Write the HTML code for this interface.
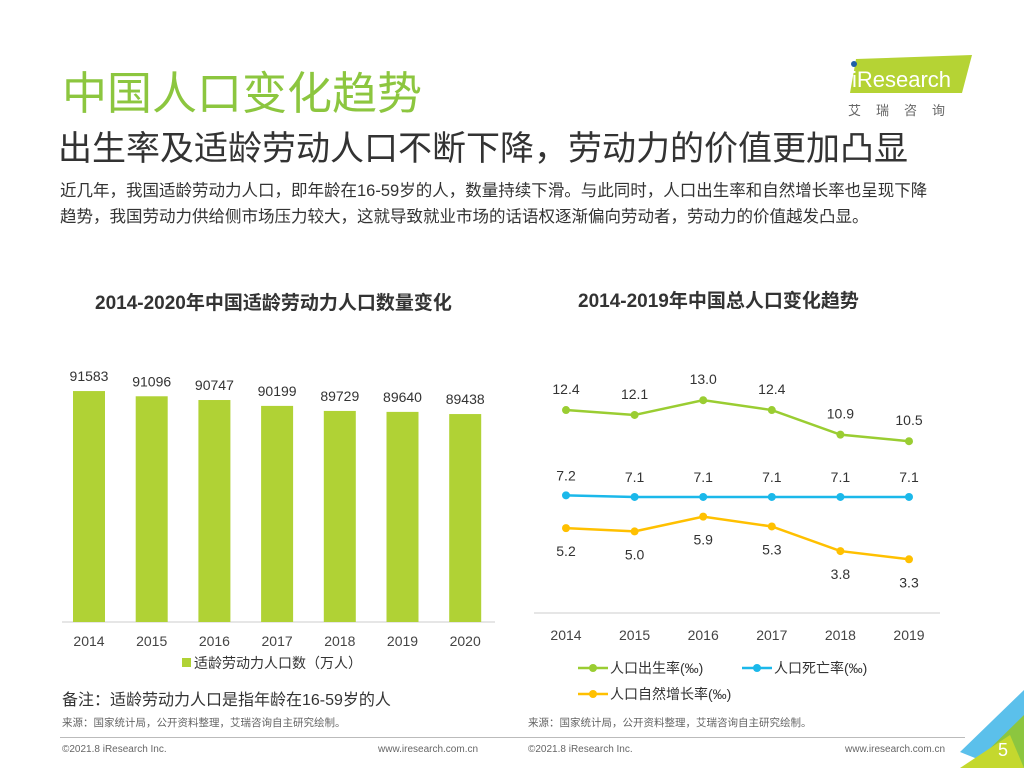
<!DOCTYPE html>
<html><head><meta charset="utf-8"><style>
body{margin:0;width:1024px;height:768px;overflow:hidden;background:#fff;position:relative;font-family:"Liberation Sans","Noto Sans CJK SC",sans-serif}
.abs{position:absolute;margin:0;white-space:nowrap}
</style></head><body>
<div class="abs" style="left:62px;top:57px;font-size:45px;color:#8cc63f;">中国人口变化趋势</div>
<div class="abs" style="left:58px;top:121px;font-size:34px;color:#333;">出生率及适龄劳动人口不断下降，劳动力的价值更加凸显</div>
<div class="abs" style="left:60px;top:178px;font-size:16.5px;line-height:26px;color:#333;">近几年，我国适龄劳动力人口，即年龄在16-59岁的人，数量持续下滑。与此同时，人口出生率和自然增长率也呈现下降<br>趋势，我国劳动力供给侧市场压力较大，这就导致就业市场的话语权逐渐偏向劳动者，劳动力的价值越发凸显。</div>
<div style="position:absolute;left:846px;top:55px;width:126px;height:40px;">
<svg width="126" height="40"><polygon points="10,4 126,0 116,38 4,38" fill="#b5d334"/><circle cx="8" cy="9" r="3" fill="#1f5fa8"/><text x="6" y="32" font-size="22" fill="#fff" font-family="Liberation Sans">iResearch</text></svg></div>
<div class="abs" style="left:848px;top:100px;font-size:13px;letter-spacing:15px;color:#666;">艾瑞咨询</div>
<div class="abs" style="left:95px;top:288px;font-size:19px;font-weight:bold;color:#333;">2014-2020年中国适龄劳动力人口数量变化</div>
<div class="abs" style="left:578px;top:286px;font-size:19px;font-weight:bold;color:#333;">2014-2019年中国总人口变化趋势</div>
<svg id="bar" style="position:absolute;left:0;top:0" width="512" height="768"></svg>
<svg id="line" style="position:absolute;left:512px;top:0" width="512" height="768"></svg>
<div class="abs" style="left:62px;top:686px;font-size:16px;color:#333;">备注：适龄劳动力人口是指年龄在16-59岁的人</div>
<div class="abs" style="left:62px;top:715px;font-size:10.5px;color:#666;">来源：国家统计局，公开资料整理，艾瑞咨询自主研究绘制。</div>
<div class="abs" style="left:528px;top:715px;font-size:10.5px;color:#666;">来源：国家统计局，公开资料整理，艾瑞咨询自主研究绘制。</div>
<div style="position:absolute;left:60px;top:737px;width:905px;height:1px;background:#bbb"></div>
<div class="abs" style="left:62px;top:744px;font-size:10px;color:#666;">©2021.8 iResearch Inc.</div>
<div class="abs" style="left:378px;top:744px;font-size:10px;color:#666;">www.iresearch.com.cn</div>
<div class="abs" style="left:528px;top:744px;font-size:10px;color:#666;">©2021.8 iResearch Inc.</div>
<div class="abs" style="left:845px;top:744px;font-size:10px;color:#666;">www.iresearch.com.cn</div>
<svg style="position:absolute;left:960px;top:690px" width="64" height="78">
<polygon points="0,62 64,0 64,78 40,78" fill="#5bc0eb"/><polygon points="10,78 64,25 64,78" fill="#8cc63f"/><polygon points="0,78 50,45 64,78" fill="#c4d82e"/>
<text x="38" y="66" font-size="18" fill="#fff" font-family="Liberation Sans">5</text></svg>
<script>
const NS="http://www.w3.org/2000/svg";
function mk(p,t,a,txt){const e=document.createElementNS(NS,t);for(const k in a)e.setAttribute(k,a[k]);if(txt!==undefined)e.textContent=txt;p.appendChild(e);return e;}
const barYears=["2014","2015","2016","2017","2018","2019","2020"];
const barValues=[91583,91096,90747,90199,89729,89640,89438];
const bs=document.getElementById('bar');
const bx=i=>89+i*62.7, by=v=>622-(v-70040)*0.01072;
mk(bs,'line',{x1:62,x2:495,y1:622,y2:622,stroke:'#ccc'});
barValues.forEach((v,i)=>{
 const r=mk(bs,'rect',{x:bx(i)-16,y:by(v),width:32,height:622-by(v),fill:'#b0d235'});
 
 
 mk(bs,'text',{x:bx(i),y:by(v)-10,'text-anchor':'middle','font-size':14,fill:'#333'},v);
 mk(bs,'text',{x:bx(i),y:646,'text-anchor':'middle','font-size':14,fill:'#444'},barYears[i]);
});
mk(bs,'rect',{x:182,y:658,width:9,height:9,fill:'#b0d235'});
mk(bs,'text',{x:194,y:668,'font-size':14,fill:'#333'},'适龄劳动力人口数（万人）');

const lineYears=["2014","2015","2016","2017","2018","2019"];
const birthRate=[12.4,12.1,13.0,12.4,10.9,10.5];
const deathRate=[7.2,7.1,7.1,7.1,7.1,7.1];
const naturalRate=[5.2,5.0,5.9,5.3,3.8,3.3];
const ls=document.getElementById('line');
const lx=i=>54+i*68.6, ly=v=>613.4-v*16.4;
mk(ls,'line',{x1:22,x2:428,y1:613,y2:613,stroke:'#ccc'});
lineYears.forEach((y,i)=>mk(ls,'text',{x:lx(i),y:640,'text-anchor':'middle','font-size':14,fill:'#444'},y));
function series(vals,color,name,off){
 const p=mk(ls,'polyline',{points:vals.map((v,i)=>lx(i)+','+ly(v)).join(' '),fill:'none',stroke:color,'stroke-width':2.5});
 
 
 vals.forEach((v,i)=>{mk(ls,'circle',{cx:lx(i),cy:ly(v),r:4,fill:color});
  mk(ls,'text',{x:lx(i),y:ly(v)+off,'text-anchor':'middle','font-size':14,fill:'#333'},v.toFixed(1));});
}
series(birthRate,'#9acd32','birth-rate-line',-16);
series(deathRate,'#1bb8ea','death-rate-line',-15);
series(naturalRate,'#ffc000','natural-growth-line',28);
function leg(x,y,c,t){mk(ls,'line',{x1:x,x2:x+30,y1:y,y2:y,stroke:c,'stroke-width':2.5});mk(ls,'circle',{cx:x+15,cy:y,r:4,fill:c});mk(ls,'text',{x:x+32,y:y+5,'font-size':14,fill:'#333'},t);}
leg(66,668,'#9acd32','人口出生率(‰)');
leg(230,668,'#1bb8ea','人口死亡率(‰)');
leg(66,694,'#ffc000','人口自然增长率(‰)');
</script>
</body></html>
